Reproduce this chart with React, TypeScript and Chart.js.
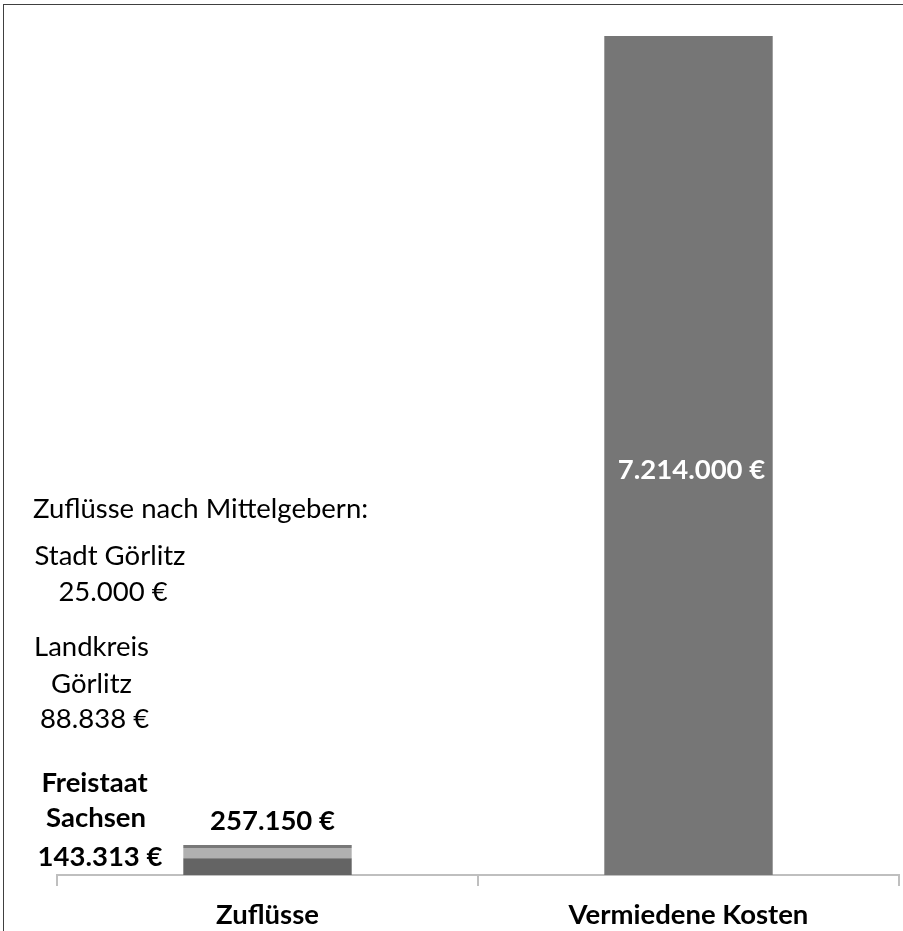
import React, { useEffect, useRef } from "react";
import { Chart, registerables } from "chart.js";

Chart.register(...registerables);

const categories = ["Zuflüsse", "Vermiedene Kosten"];
const freistaatSachsen = [143313, null];
const landkreisGoerlitz = [88838, null];
const stadtGoerlitz = [25000, null];
const vermiedeneKosten = [null, 7214000];
const totalLabels = ["257.150 €", "7.214.000 €"];
const totals = [257150, 7214000];

const FONT = "Lato, 'Open Sans', sans-serif";

const textPlugin = {
  id: "texts",
  afterDatasetsDraw(chart: any) {
    const ctx = chart.ctx;
    const x = chart.scales.x;
    const y = chart.scales.y;
    ctx.save();
    ctx.textBaseline = "alphabetic";
    ctx.textAlign = "center";
    ctx.font = `bold 27.5px ${FONT}`;
    // label above stacked bar
    ctx.fillStyle = "#000";
    ctx.fillText(totalLabels[0], x.getPixelForValue(0) + 5, y.getPixelForValue(totals[0]) - 15);
    // label inside tall bar
    ctx.fillStyle = "#fff";
    ctx.fillText(totalLabels[1], x.getPixelForValue(1) + 3, y.getPixelForValue(totals[1] / 2) + 23.5);

    // left annotation block
    ctx.fillStyle = "#000";
    ctx.font = `27.5px ${FONT}`;
    ctx.textAlign = "left";
    ctx.fillText("Zuflüsse nach Mittelgebern:", 33, 518);
    ctx.textAlign = "center";
    ctx.fillText("Stadt Görlitz", 110, 565);
    ctx.fillText("25.000 €", 113, 601);
    ctx.fillText("Landkreis", 91.5, 656);
    ctx.fillText("Görlitz", 91.5, 693);
    ctx.fillText("88.838 €", 94.5, 728);
    ctx.font = `bold 27.5px ${FONT}`;
    ctx.fillText("Freistaat", 94.5, 792);
    ctx.fillText("Sachsen", 96, 827);
    ctx.fillText("143.313 €", 100, 866);
    ctx.restore();
  },
};

export default function App() {
  const ref = useRef<HTMLCanvasElement | null>(null);
  useEffect(() => {
    if (!ref.current) return;
    const chart = new Chart(ref.current, {
      type: "bar",
      data: {
        labels: categories,
        datasets: [
          { label: "Freistaat Sachsen", data: freistaatSachsen, backgroundColor: "#646464" },
          { label: "Landkreis Görlitz", data: landkreisGoerlitz, backgroundColor: "#b0b0b0" },
          { label: "Stadt Görlitz", data: stadtGoerlitz, backgroundColor: "#787878" },
          { label: "Vermiedene Kosten", data: vermiedeneKosten, backgroundColor: "#767676" },
        ] as any,
      },
      options: {
        animation: false,
        responsive: false,
        devicePixelRatio: 1,
        layout: { padding: { left: 57, right: 4, top: 36, bottom: -14 } },
        datasets: { bar: { categoryPercentage: 1, barPercentage: 0.4 } },
        plugins: { legend: { display: false }, tooltip: { enabled: false } },
        scales: {
          x: {
            stacked: true,
            grid: { drawOnChartArea: false, drawTicks: true, tickLength: 11, color: "#bfbfbf", lineWidth: 2, offset: true },
            border: { display: true, color: "#bfbfbf", width: 2 },
            ticks: { color: "#000", font: { family: FONT, size: 27.5, weight: "bold" }, padding: 13 },
          },
          y: { stacked: true, display: false, min: 0, max: totals[1] },
        },
      } as any,
      plugins: [textPlugin],
    });
    return () => chart.destroy();
  }, []);
  return (
    <div style={{ position: "fixed", left: 0, top: 0, width: 903, height: 931, background: "#fff" }}>
      <canvas ref={ref} width={903} height={931} style={{ position: "absolute", left: 0, top: 0 }} />
      <div
        style={{
          position: "absolute",
          left: 3,
          top: 4,
          width: 899,
          height: 926,
          borderLeft: "1px solid #404040",
          borderTop: "1px solid #404040",
          pointerEvents: "none",
        }}
      />
    </div>
  );
}
